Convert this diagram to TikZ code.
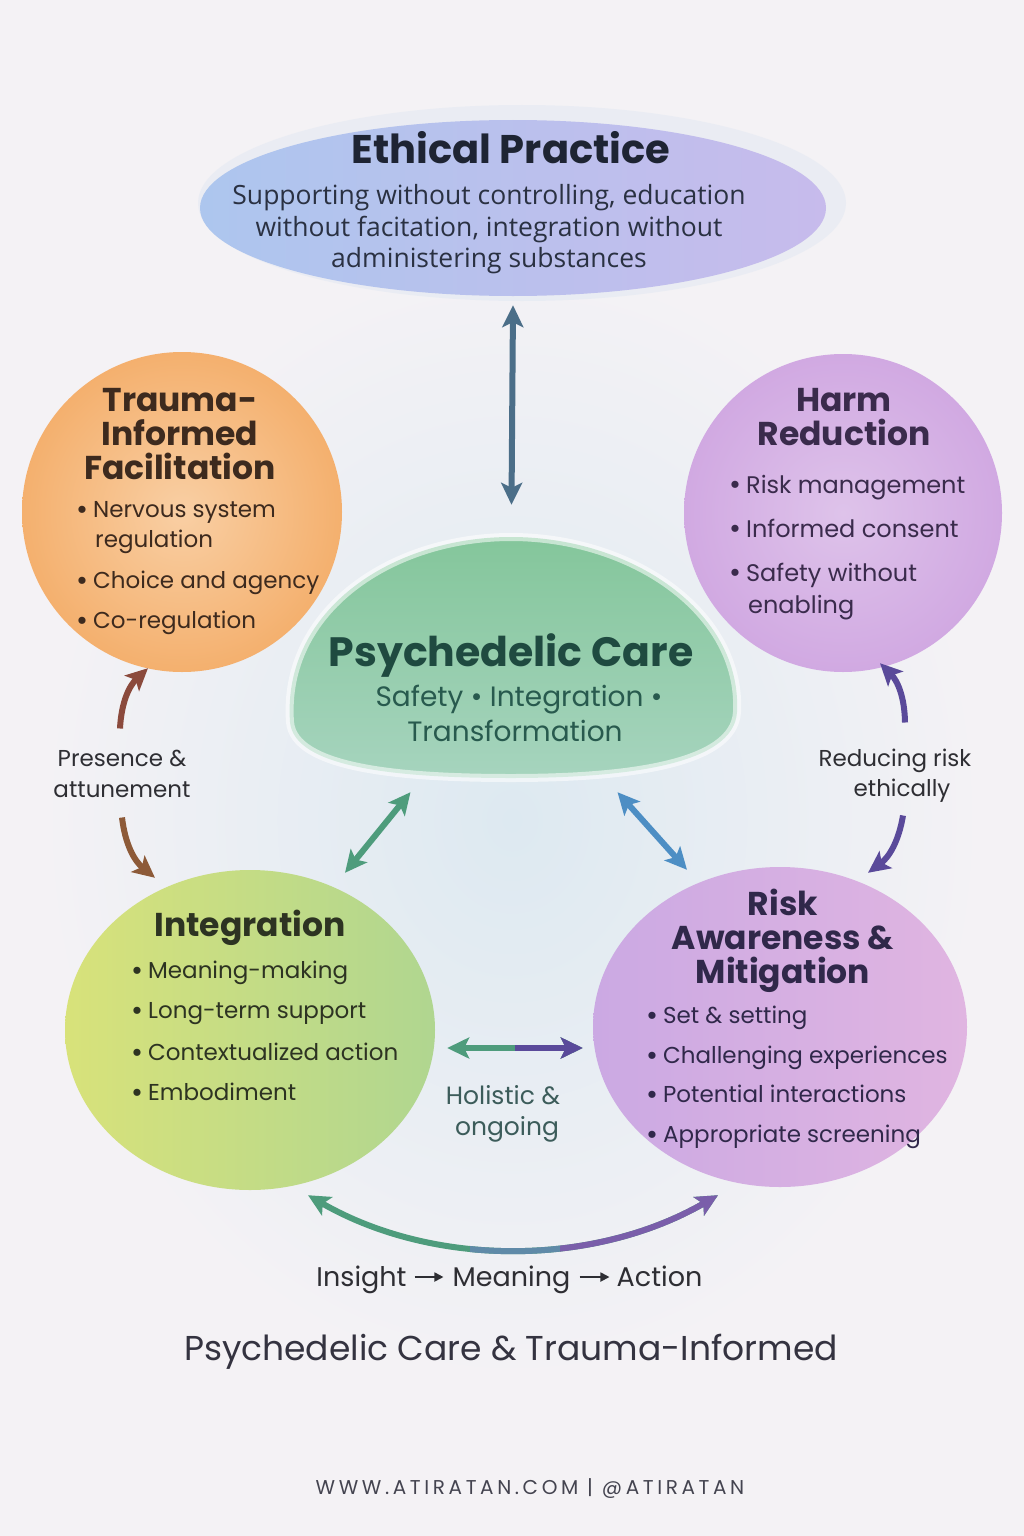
\documentclass[tikz,border=0pt]{standalone}
\usepackage{fontspec}
\setmainfont{Poppins}
\newfontfamily\bodyfont{Open Sans}
\usetikzlibrary{arrows.meta,shapes.geometric}
\newcommand\mybul{\raisebox{-1.5pt}{\fontsize{29}{29}\selectfont •}\hspace{5pt}}
\definecolor{bg}{HTML}{F4F2F5}
\definecolor{wash}{HTML}{DDE9F1}
\definecolor{ethL}{HTML}{ADC6EE}
\definecolor{ethR}{HTML}{C7BBEC}
\definecolor{ethRing}{HTML}{DEE6F2}
\definecolor{trIn}{HTML}{F9CFA4}
\definecolor{trOut}{HTML}{F4B06E}
\definecolor{hrIn}{HTML}{DEC3EA}
\definecolor{hrOut}{HTML}{D1A9E2}
\definecolor{psT}{HTML}{84C69B}
\definecolor{psB}{HTML}{A6D4BE}
\definecolor{inL}{HTML}{D8E27A}
\definecolor{inR}{HTML}{B0D690}
\definecolor{rkL}{HTML}{CBA9E3}
\definecolor{rkR}{HTML}{E0B5E1}
\definecolor{ethTitle}{HTML}{1E2433}
\definecolor{ethBody}{HTML}{2A3142}
\definecolor{trText}{HTML}{3D2A1E}
\definecolor{hrText}{HTML}{3A2B4C}
\definecolor{psTitle}{HTML}{1F4A40}
\definecolor{psSub}{HTML}{285A4E}
\definecolor{inText}{HTML}{2D3322}
\definecolor{rkText}{HTML}{30284A}
\definecolor{lblText}{HTML}{2E2E33}
\definecolor{holText}{HTML}{3C5C5A}
\definecolor{mainText}{HTML}{343340}
\definecolor{footText}{HTML}{444450}
\definecolor{arBlue}{HTML}{4B6E88}
\definecolor{arBrown}{HTML}{8B4A3C}
\definecolor{arBrown2}{HTML}{8D5A38}
\definecolor{arPurple}{HTML}{5A4A9A}
\definecolor{arGreen}{HTML}{4E9C7C}
\definecolor{arSky}{HTML}{4D8EC4}
\definecolor{arMid}{HTML}{5F8AA8}
\definecolor{arViolet}{HTML}{7A5EAA}
\begin{document}
\begin{tikzpicture}[x=1pt,y=-1pt,
  txt/.style={inner sep=0pt, text height=0pt, text depth=0pt},
  ttl/.style={txt, font=\fontsize{33}{36}\selectfont\bfseries, yshift=-11.5pt},
  bul/.style={txt, anchor=west, font=\fontsize{23}{28}\selectfont, yshift=-7.5pt},
  bulb/.style={txt, anchor=west, font=\fontsize{24}{28}\selectfont, yshift=-8pt},
  lbl/.style={txt, font=\fontsize{23}{26}\selectfont, text=lblText, yshift=-7.5pt},
  flow/.style={txt, font=\fontsize{27}{30}\selectfont, text=lblText, yshift=-9pt},
  blob/.style={inner sep=0pt, draw=none},
  tipS/.tip={Stealth[length=22pt,width=21pt,inset=5pt]},
  arr/.style={line width=6pt, -tipS},
  darr/.style={line width=6pt, tipS-tipS},
  thinarr/.style={line width=1.8pt, lblText, -{Triangle[length=9pt,width=9pt]}}
]
\useasboundingbox (0,0) rectangle (1024,1536);
\fill[bg] (0,0) rectangle (1024,1536);
% soft watercolor wash
\shade[inner color=wash, outer color=bg] (512,820) ellipse [x radius=470, y radius=560];

% ---------- Ethical Practice ----------
\fill[ethRing, opacity=0.45] (522,203) ellipse [x radius=324, y radius=98];
\node[blob, ellipse, minimum width=626, minimum height=176, left color=ethL, right color=ethR] (eth) at (513,208) {};
\node[txt, text=ethTitle, font=\fontsize{40}{44}\selectfont\bfseries, yshift=-14pt] (ethT) at (511,149) {Ethical Practice};
\foreach \t/\y [count=\i] in {{Supporting without controlling, education}/195, {without facitation, integration without}/227, {administering substances}/258}
  \node[txt, text=ethBody, font=\bodyfont\fontsize{26.5}{30}\selectfont, yshift=-9pt] (ethB\i) at (489,\y) {\t};

% ---------- Trauma-Informed Facilitation ----------
\node[blob, circle, minimum size=320, inner color=trIn, outer color=trOut] (trauma) at (182,512) {};
\foreach \t/\y [count=\i] in {{Trauma-}/400, {Informed}/434, {Facilitation}/468}
  \node[ttl, text=trText] (trT\i) at (180,\y) {\t};
\foreach \t/\x/\y [count=\i] in {{\mybul Nervous system}/76/510, {regulation}/95/540, {\mybul Choice and agency}/76/581, {\mybul Co-regulation}/76/621}
  \node[bul, text=trText] (trB\i) at (\x,\y) {\t};

% ---------- Harm Reduction ----------
\node[blob, circle, minimum size=318, inner color=hrIn, outer color=hrOut] (harm) at (843,513) {};
\foreach \t/\y [count=\i] in {{Harm}/400, {Reduction}/434}
  \node[ttl, text=hrText] (hrT\i) at (844,\y) {\t};
\foreach \t/\x/\y [count=\i] in {{\mybul Risk management}/729/485, {\mybul Informed consent}/729/529, {\mybul Safety without}/729/573, {enabling}/748/605}
  \node[bulb, text=hrText] (hrB\i) at (\x,\y) {\t};

% ---------- Psychedelic Care ----------
\node[blob, rectangle, minimum width=453, minimum height=241] (psy) at (511.5,657.5) {};
\draw[white, draw opacity=0.55, line width=8pt, top color=psT, bottom color=psB]
  (290,722) .. controls (282,610) and (392,537) .. (511,537)
  .. controls (632,537) and (742,612) .. (737,712)
  .. controls (734,765) and (625,778) .. (511,778)
  .. controls (398,778) and (294,768) .. (290,722) -- cycle;
\node[txt, text=psTitle, font=\fontsize{41}{44}\selectfont\bfseries, yshift=-14pt] (psT) at (511,652) {Psychedelic Care};
\node[txt, text=psSub, font=\fontsize{28}{30}\selectfont, yshift=-9.5pt] (psS1) at (519,697) {Safety • Integration •};
\node[txt, text=psSub, font=\fontsize{28}{30}\selectfont, yshift=-9.5pt] (psS2) at (515,732) {Transformation};

% ---------- Integration ----------
\node[blob, ellipse, minimum width=370, minimum height=320, left color=inL, right color=inR] (integ) at (250,1030) {};
\node[ttl, text=inText] (inT) at (250,925) {Integration};
\foreach \t/\y [count=\i] in {{Meaning-making}/971, {Long-term support}/1011, {Contextualized action}/1053, {Embodiment}/1093}
  \node[bul, text=inText] (inB\i) at (131,\y) {\mybul\t};

% ---------- Risk Awareness & Mitigation ----------
\node[blob, ellipse, minimum width=374, minimum height=320, left color=rkL, right color=rkR] (risk) at (780,1027) {};
\foreach \t/\y [count=\i] in {{Risk}/904, {Awareness \&}/938, {Mitigation}/972}
  \node[ttl, text=rkText] (rkT\i) at (783,\y) {\t};
\foreach \t/\y [count=\i] in {{Set \& setting}/1016, {Challenging experiences}/1056, {Potential interactions}/1095, {Appropriate screening}/1135}
  \node[bul, text=rkText] (rkB\i) at (646,\y) {\mybul\t};

% ---------- labels ----------
\node[lbl] (pres1) at (122,759) {Presence \&};
\node[lbl] (pres2) at (122,790) {attunement};
\node[lbl] (red1) at (895,759) {Reducing risk};
\node[lbl] (red2) at (902,789) {ethically};
\node[lbl, text=holText, font=\fontsize{25}{28}\selectfont, yshift=-0.5pt] (hol1) at (503,1096) {Holistic \&};
\node[lbl, text=holText, font=\fontsize{25}{28}\selectfont, yshift=-0.5pt] (hol2) at (507,1127) {ongoing};
\node[flow] (ins) at (361.5,1277) {Insight};
\node[flow] (mean) at (511.5,1277) {Meaning};
\node[flow] (act) at (659.5,1277) {Action};
\node[txt, text=mainText, font=\fontsize{34.5}{38}\selectfont, yshift=-11.5pt] (main) at (511,1349) {Psychedelic Care \& Trauma-Informed};
\node[txt, text=footText, font=\fontsize{20}{22}\selectfont\addfontfeatures{LetterSpace=18}, yshift=-7pt] (foot) at (530,1487) {WWW.ATIRATAN.COM | @ATIRATAN};

% ---------- connectors ----------
\draw[thinarr] ([xshift=8pt,yshift=9pt]ins.east) -- ([xshift=-9pt,yshift=9pt]mean.west);
\draw[thinarr] ([xshift=9pt,yshift=9pt]mean.east) -- ([xshift=-7pt,yshift=9pt]act.west);
\draw[darr, arBlue] ([yshift=-9pt]eth.south) -- ([yshift=32pt]psy.north);
\draw[arr, arBrown] ([xshift=-2pt,yshift=38pt]pres1.center) to[bend left=22] ([xshift=-34pt,yshift=4pt]trauma.south);
\draw[arr, arBrown2] ([yshift=-20pt]pres2.center) to[bend right=22] ([xshift=-95pt,yshift=-8pt]integ.north);
\draw[arr, arPurple] ([xshift=10pt,yshift=44pt]red1.center) to[bend right=22] ([xshift=37pt,yshift=9pt]harm.south);
\draw[arr, arPurple] ([xshift=1pt,yshift=-19pt]red2.center) to[bend left=22] ([xshift=88pt,yshift=-6pt]risk.north);
\draw[darr, arGreen] ([xshift=-101pt,yshift=-14pt]psy.south) -- ([xshift=95pt,yshift=-3pt]integ.north);
\draw[darr, arSky] ([xshift=106pt,yshift=-14pt]psy.south) -- ([xshift=-93pt,yshift=-3pt]risk.north);
% horizontal: green left, purple right
\draw[darr, arGreen] ([xshift=12pt,yshift=-18pt]integ.east) -- ([xshift=-10pt,yshift=-21pt]risk.west);
\begin{scope}
  \clip (515,1000) rectangle (620,1100);
  \draw[darr, arPurple] ([xshift=12pt,yshift=-18pt]integ.east) -- ([xshift=-10pt,yshift=-21pt]risk.west);
\end{scope}
% bottom curve: green -> blue -> purple
\draw[darr, arGreen] ([xshift=58pt,yshift=-5pt]integ.south) .. controls +(125,72) and +(-125,72) .. ([xshift=-62pt,yshift=-8pt]risk.south);
\begin{scope}
  \clip (470,1150) rectangle (560,1300);
  \draw[darr, arMid] ([xshift=58pt,yshift=-5pt]integ.south) .. controls +(125,72) and +(-125,72) .. ([xshift=-62pt,yshift=-8pt]risk.south);
\end{scope}
\begin{scope}
  \clip (560,1150) rectangle (760,1300);
  \draw[darr, arViolet] ([xshift=58pt,yshift=-5pt]integ.south) .. controls +(125,72) and +(-125,72) .. ([xshift=-62pt,yshift=-8pt]risk.south);
\end{scope}
\end{tikzpicture}
\end{document}
